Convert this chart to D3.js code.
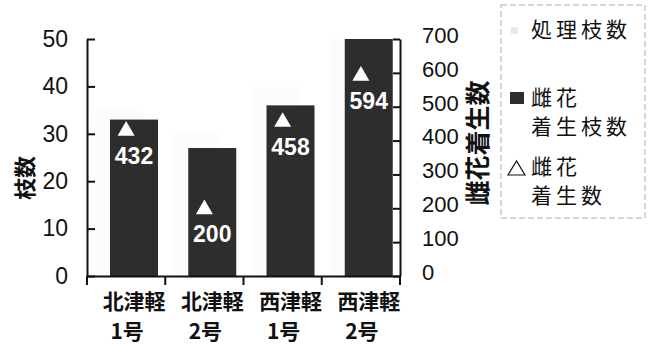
<!DOCTYPE html>
<html>
<head>
<meta charset="utf-8">
<script src="https://cdn.jsdelivr.net/npm/d3@7"></script>
<style>
  body { margin: 0; background: #fff; }
  svg { display: block; }
  .num { font-family: "Liberation Sans", Arial, sans-serif; }
  .jp { font-family: "Noto Sans CJK JP", sans-serif; }
</style>
</head>
<body>
<svg id="chart" width="651" height="347"></svg>
<script>
// data
const categories = ['北津軽1号', '北津軽2号', '西津軽1号', '西津軽2号'];
const labelLine1 = ['北津軽', '北津軽', '西津軽', '西津軽'];
const labelLine2 = ['1号', '2号', '1号', '2号'];
const treatedBranches = [35, 30, 40, 50];   // 処理枝数 (barely visible)
const femaleBranches = [33, 27, 36, 50];    // 雌花着生枝数
const femaleFlowers = [432, 200, 458, 594]; // 雌花着生数
const leftTicks = [0, 10, 20, 30, 40, 50];
const rightTicks = [0, 100, 200, 300, 400, 500, 600, 700];

const svg = d3.select('#chart');
const plotLeft = 87, plotRight = 400, plotTop = 39, plotBottom = 276;

const x = d3.scaleBand().domain(categories).range([plotLeft, plotRight]).padding(0);
const y = d3.scaleLinear().domain([0, 50]).range([plotBottom, plotTop]);
const y2 = d3.scaleLinear().domain([0, 700]).range([plotBottom, plotTop]);

const bw = x.bandwidth();
const barW = 48;

// light bars (処理枝数) behind - almost invisible in the scan
svg.append('g').selectAll('rect')
    .data(categories)
    .join('rect')
    .attr('x', d => x(d) + 8)
    .attr('y', (d, i) => y(treatedBranches[i]))
    .attr('width', barW)
    .attr('height', (d, i) => plotBottom - y(treatedBranches[i]))
    .attr('fill', '#fcfcfc');

// dark bars (雌花着生枝数)
svg.append('g').selectAll('rect')
    .data(categories)
    .join('rect')
    .attr('x', d => x(d) + 23)
    .attr('y', (d, i) => y(femaleBranches[i]))
    .attr('width', barW)
    .attr('height', (d, i) => plotBottom - y(femaleBranches[i]))
    .attr('fill', '#2d2d2d');

// triangles + labels
const tri = d3.symbol(d3.symbolTriangle, 125);
svg.append('g').selectAll('path')
    .data(categories)
    .join('path')
    .attr('d', tri)
    .attr('transform', (d, i) => `translate(${x(d) + bw / 2},${y2(femaleFlowers[i]) + 1})`)
    .attr('fill', '#fff');

svg.append('g').selectAll('text')
    .data(categories)
    .join('text')
    .attr('class', 'num')
    .attr('x', d => x(d) + 23 + barW / 2)
    .attr('y', (d, i) => y2(femaleFlowers[i]) + 34)
    .attr('text-anchor', 'middle')
    .attr('font-size', 23)
    .attr('font-weight', 700)
    .attr('fill', '#fff')
    .text((d, i) => femaleFlowers[i]);

// axes
const axisL = d3.axisLeft(y).tickValues(leftTicks).tickSizeInner(-8).tickSizeOuter(0).tickPadding(19);
const gL = svg.append('g').attr('transform', `translate(${plotLeft},0)`).call(axisL);
gL.selectAll('text').attr('class', 'num').attr('font-size', 23).attr('fill', '#111');

const axisR = d3.axisRight(y2).tickValues(rightTicks).tickSizeInner(-7).tickSizeOuter(0).tickPadding(22);
const gR = svg.append('g').attr('transform', `translate(${plotRight},0)`).call(axisR);
gR.selectAll('text').attr('class', 'num').attr('font-size', 22).attr('fill', '#111')
    .attr('dy', '0.15em');

const axisB = d3.axisBottom(x).tickValues([]).tickSizeOuter(0);
const gB = svg.append('g').attr('transform', `translate(0,${plotBottom})`).call(axisB);
// band boundary ticks
gB.selectAll('line.bt')
    .data(categories.concat(['end']))
    .join('line')
    .attr('class', 'bt')
    .attr('x1', (d, i) => i < categories.length ? x(d) : plotRight)
    .attr('x2', (d, i) => i < categories.length ? x(d) : plotRight)
    .attr('y1', 0).attr('y2', 9)
    .attr('stroke', '#111').attr('stroke-width', 2);

svg.selectAll('.domain').attr('stroke', '#111').attr('stroke-width', 2);
svg.selectAll('.tick line').attr('stroke', '#111').attr('stroke-width', 2);

// x category labels
const xl = svg.append('g').attr('class', 'jp').attr('font-size', 21).attr('fill', '#111').attr('font-weight', 700);
xl.selectAll('text.l1')
    .data(categories)
    .join('text')
    .attr('class', 'l1')
    .attr('x', d => x(d) + bw / 2 + 8)
    .attr('y', 309)
    .attr('text-anchor', 'middle')
    .text((d, i) => labelLine1[i]);
xl.selectAll('text.l2')
    .data(categories)
    .join('text')
    .attr('class', 'l2')
    .attr('x', d => x(d) + bw / 2 + 1)
    .attr('y', 339)
    .attr('text-anchor', 'middle')
    .text((d, i) => labelLine2[i]);

// axis titles
svg.append('text')
    .attr('class', 'jp')
    .attr('transform', 'translate(33,178) rotate(-90)')
    .attr('text-anchor', 'middle')
    .attr('font-size', 22).attr('font-weight', 700).attr('fill', '#111')
    .text('枝数');
svg.append('text')
    .attr('class', 'jp')
    .attr('transform', 'translate(487,143) rotate(-90)')
    .attr('text-anchor', 'middle')
    .attr('font-size', 25).attr('font-weight', 700).attr('fill', '#111')
    .text('雌花着生数');

// legend
const lg = svg.append('g').attr('class', 'jp');
lg.append('rect')
    .attr('x', 501).attr('y', 5).attr('width', 144).attr('height', 213)
    .attr('fill', 'none').attr('stroke', '#aaa').attr('stroke-dasharray', '6,3');
lg.append('rect').attr('x', 511).attr('y', 27).attr('width', 7).attr('height', 7).attr('fill', '#e8e8e8');
lg.append('rect').attr('x', 510).attr('y', 92).attr('width', 14).attr('height', 12).attr('fill', '#2d2d2d');
lg.append('path').attr('d', 'M508,175 L516.5,161 L525,175 Z').attr('fill', 'none').attr('stroke', '#111').attr('stroke-width', 1.2);

const legendLines = [
    ['処理枝数', 37],
    ['雌花', 105],
    ['着生枝数', 134],
    ['雌花', 174],
    ['着生数', 203]
];
lg.selectAll('text')
    .data(legendLines)
    .join('text')
    .attr('x', 531)
    .attr('y', d => d[1])
    .attr('font-size', 21)
    .attr('letter-spacing', 4)
    .attr('fill', '#111')
    .text(d => d[0]);
</script>
</body>
</html>
